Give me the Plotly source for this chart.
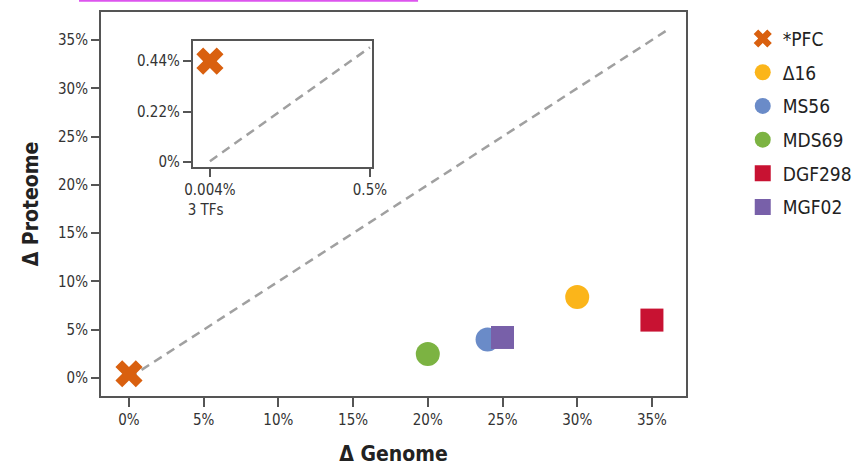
import plotly.graph_objects as go

# ---- data ----
names = ["*PFC", "Δ16", "MS56", "MDS69", "DGF298", "MGF02"]
genome = [0.004, 30, 24, 20, 35, 25]          # Δ Genome (%)
proteome = [0.44, 8.4, 4.0, 2.5, 6.0, 4.2]    # Δ Proteome (%)
colors = ["#D9600F", "#FBB51A", "#6A8BC8", "#7CB342", "#C81232", "#7860A9"]
symbols = ["x", "circle", "circle", "circle", "square", "square"]

main_ticks = [0, 5, 10, 15, 20, 25, 30, 35]
main_ticktext = ["0%", "5%", "10%", "15%", "20%", "25%", "30%", "35%"]
diag_main = [0, 36]
inset_xticks = [0.004, 0.5]
inset_xticktext = ["0.004%<br>3 TFs  ", "0.5%"]
inset_yticks = [0, 0.22, 0.44]
inset_yticktext = ["0%", "0.22%", "0.44%"]
diag_inset = [0.004, 0.5]

FONT = "Liberation Sans Narrow, DejaVu Sans Condensed, Arial Narrow, sans-serif"
AX = "#555555"

fig = go.Figure()

# main diagonal
fig.add_trace(go.Scatter(x=diag_main, y=diag_main, mode="lines",
                         line=dict(color="#A0A0A0", width=2.5, dash="9px,6px"),
                         showlegend=False, hoverinfo="skip"))
# inset diagonal
fig.add_trace(go.Scatter(x=diag_inset, y=diag_inset, mode="lines", xaxis="x2", yaxis="y2",
                         line=dict(color="#A0A0A0", width=2.5, dash="9px,6px"),
                         showlegend=False, hoverinfo="skip"))

for i, n in enumerate(names):
    fig.add_trace(go.Scatter(
        x=[genome[i]], y=[proteome[i]], mode="markers", name=n,
        legendgroup=n,
        marker=dict(symbol=symbols[i], color=colors[i], size=24 if symbols[i] != "square" else 23,
                    line=dict(width=0))))

# PFC in inset
fig.add_trace(go.Scatter(x=[genome[0]], y=[proteome[0]], mode="markers", xaxis="x2", yaxis="y2",
                         marker=dict(symbol="x", color=colors[0], size=24, line=dict(width=0)),
                         showlegend=False))

fig.update_layout(
    width=861, height=466,
    margin=dict(l=101, r=175, t=12, b=70, autoexpand=False),
    paper_bgcolor="white", plot_bgcolor="white",
    font=dict(family=FONT, size=15, color="#333333"),
    xaxis=dict(range=[-1.87, 37.28], tickvals=main_ticks, ticktext=main_ticktext,
               showline=True, linecolor=AX, linewidth=2, mirror=True,
               ticks="outside", ticklen=9, tickwidth=2, tickcolor=AX,
               showgrid=False, zeroline=False,
               title=dict(text="<b>Δ Genome</b>", font=dict(size=21, color="#222"), standoff=20)),
    yaxis=dict(range=[-1.86, 37.9], tickvals=main_ticks, ticktext=main_ticktext,
               showline=True, linecolor=AX, linewidth=2, mirror=True,
               ticks="outside", ticklen=8, tickwidth=2, tickcolor=AX,
               showgrid=False, zeroline=False,
               title=dict(text="<b>Δ Proteome</b>", font=dict(size=21, color="#222"), standoff=14)),
    xaxis2=dict(domain=[0.157, 0.463], anchor="y2", range=[-0.049, 0.506],
                tickvals=inset_xticks, ticktext=inset_xticktext,
                showline=True, linecolor=AX, linewidth=2, mirror=True,
                ticks="outside", ticklen=8, tickwidth=2, tickcolor=AX,
                showgrid=False, zeroline=False),
    yaxis2=dict(domain=[0.596, 0.924], anchor="x2", range=[-0.0218, 0.527],
                tickvals=inset_yticks, ticktext=inset_yticktext,
                showline=True, linecolor=AX, linewidth=2, mirror=True,
                ticks="outside", ticklen=8, tickwidth=2, tickcolor=AX,
                showgrid=False, zeroline=False),
    legend=dict(x=1.097, y=0.98, xanchor="left", yanchor="top",
                font=dict(size=19, color="#222"), tracegroupgap=6,
                itemsizing="trace", bgcolor="rgba(0,0,0,0)"),
    shapes=[dict(type="line", xref="paper", yref="paper", x0=-0.0376, x1=0.542,
                 y0=1.029, y1=1.029, line=dict(color="#DD55EE", width=2))],
)

fig.write_html("out.html", config={"displayModeBar": False},
               post_script="document.body.style.margin='0';document.body.style.overflow='hidden';")
